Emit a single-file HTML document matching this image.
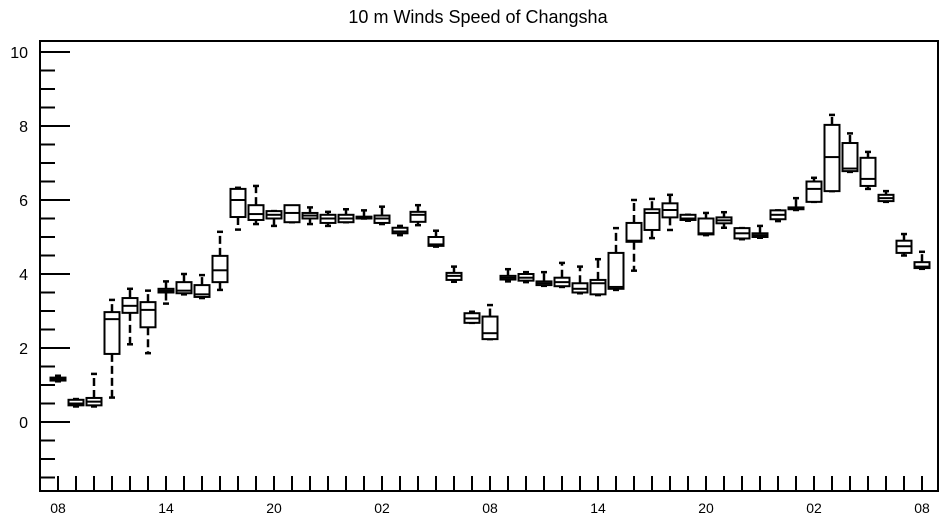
<!DOCTYPE html>
<html><head><meta charset="utf-8"><style>
html,body{margin:0;padding:0;background:#fff;}
svg{display:block;font-family:"Liberation Sans",sans-serif;}
</style></head><body>
<svg id="chart" width="945" height="520">
<text x="478" y="23" text-anchor="middle" font-size="18">10 m Winds Speed of Changsha</text>
<rect x="40" y="41" width="898" height="450" fill="none" stroke="#000" stroke-width="2"/>
<g id="axes"></g>
<g id="boxes"></g>
</svg>
<script>
const hourLabels = ["08","14","20","02","08","14","20","02","08"];
const yTicks = [0,2,4,6,8,10];
const mins =   [1.1,0.42,0.42,0.66,2.1,1.86,3.2,3.45,3.35,3.57,5.2,5.35,5.3,5.4,5.35,5.3,5.4,5.5,5.35,5.05,5.32,4.74,3.79,2.68,2.24,3.8,3.78,3.68,3.65,3.48,3.43,3.57,4.09,4.97,5.19,5.44,5.05,5.25,4.94,4.98,5.43,5.73,5.95,6.24,6.76,6.3,5.95,4.5,4.14];
const q1s =    [1.12,0.45,0.45,1.84,2.95,2.56,3.5,3.48,3.38,3.78,5.54,5.46,5.5,5.4,5.5,5.38,5.4,5.5,5.38,5.1,5.41,4.76,3.84,2.68,2.24,3.85,3.82,3.7,3.67,3.5,3.45,3.6,4.87,5.19,5.53,5.46,5.07,5.37,4.96,5.0,5.48,5.75,5.95,6.24,6.78,6.38,5.97,4.57,4.16];
const medians =[1.15,0.5,0.55,2.78,3.14,3.03,3.55,3.55,3.45,4.1,6.0,5.62,5.6,5.65,5.58,5.5,5.5,5.52,5.5,5.15,5.6,4.8,3.95,2.8,2.4,3.9,3.9,3.75,3.78,3.6,3.75,3.65,4.9,5.65,5.73,5.5,5.1,5.45,5.1,5.05,5.6,5.78,6.3,7.16,6.85,6.57,6.05,4.75,4.2];
const q3s =    [1.2,0.6,0.65,2.97,3.35,3.24,3.6,3.78,3.7,4.49,6.3,5.86,5.7,5.86,5.65,5.6,5.6,5.55,5.58,5.25,5.68,5.0,4.03,2.94,2.85,3.95,4.0,3.8,3.9,3.75,3.84,4.57,5.38,5.75,5.91,5.6,5.5,5.53,5.24,5.1,5.72,5.8,6.5,8.03,7.54,7.14,6.14,4.9,4.32];
const maxs =   [1.25,0.62,1.3,3.3,3.6,3.55,3.8,4.0,3.97,5.14,6.33,6.38,5.7,5.8,5.8,5.68,5.75,5.72,5.82,5.3,5.86,5.17,4.2,2.98,3.16,4.13,4.05,4.05,4.3,4.2,4.4,5.24,6.0,6.03,6.14,5.6,5.65,5.67,5.24,5.3,5.72,6.05,6.6,8.3,7.8,7.3,6.24,5.08,4.6];

const NS="http://www.w3.org/2000/svg";
const xOf = h => 58 + 18*h;
const yOf = v => 422 - 37*v;
const axes=document.getElementById('axes');
const boxes=document.getElementById('boxes');
function mk(tag, attrs, parent){const e=document.createElementNS(NS,tag);for(const k in attrs)e.setAttribute(k,attrs[k]);parent.appendChild(e);return e;}

// y ticks
for(let v=-1.5; v<=10.01; v+=0.5){
  const major = Math.abs(v-Math.round(v))<1e-6 && Math.round(v)%2===0;
  const t=mk('line',{x1:40,x2:major?70:55,y1:yOf(v),y2:yOf(v),stroke:'#000','stroke-width':2},axes);
  
  
}
yTicks.forEach(v=>{
  const t=mk('text',{x:28,y:yOf(v)+6,'text-anchor':'end','font-size':16},axes);
  t.textContent=v;
  
  
});
// x ticks
for(let h=0; h<mins.length; h++){
  const t=mk('line',{x1:xOf(h),x2:xOf(h),y1:476,y2:491,stroke:'#000','stroke-width':2},axes);
  
  
}
hourLabels.forEach((s,i)=>{
  const t=mk('text',{x:xOf(i*6),y:513,'text-anchor':'middle','font-size':14},axes);
  t.textContent=s;
  
  
});
// boxes
for(let i=0;i<mins.length;i++){
  const g=mk('g',{},boxes);
  
  
  const x=xOf(i), w=15;
  mk('line',{x1:x,x2:x,y1:yOf(q3s[i]),y2:yOf(maxs[i]),stroke:'#000','stroke-width':2.5,'stroke-dasharray':'8,4'},g);
  mk('line',{x1:x,x2:x,y1:yOf(q1s[i]),y2:yOf(mins[i]),stroke:'#000','stroke-width':2.5,'stroke-dasharray':'8,4'},g);
  mk('line',{x1:x-3,x2:x+3,y1:yOf(maxs[i]),y2:yOf(maxs[i]),stroke:'#000','stroke-width':2.5},g);
  mk('line',{x1:x-3,x2:x+3,y1:yOf(mins[i]),y2:yOf(mins[i]),stroke:'#000','stroke-width':2.5},g);
  const top=yOf(q3s[i]), bot=yOf(q1s[i]);
  mk('rect',{x:x-w/2,y:top,width:w,height:Math.max(bot-top,0.5),fill:'#fff',stroke:'#000','stroke-width':2},g);
  mk('line',{x1:x-w/2,x2:x+w/2,y1:yOf(medians[i]),y2:yOf(medians[i]),stroke:'#000','stroke-width':2},g);
}
</script>
</body></html>
